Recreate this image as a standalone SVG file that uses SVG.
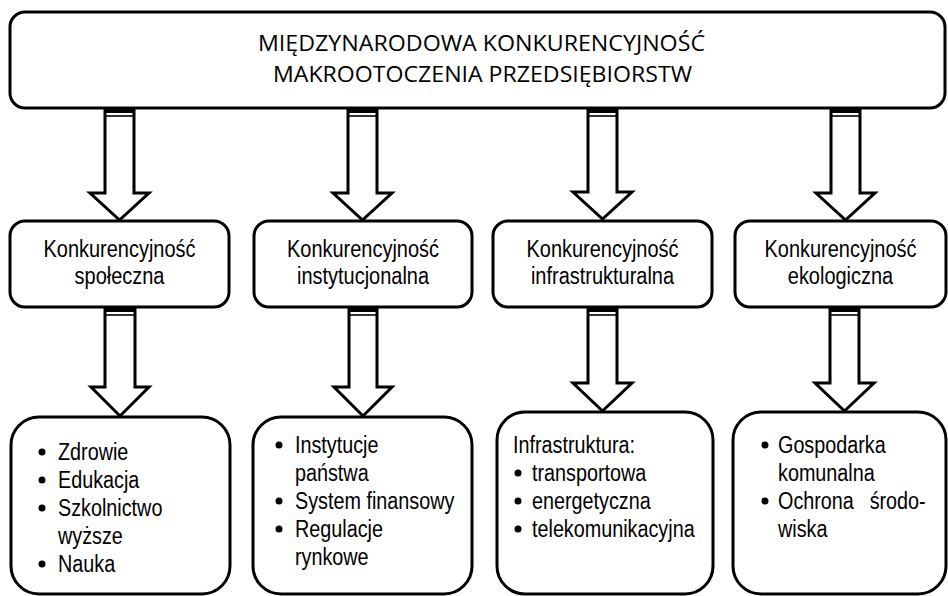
<svg xmlns="http://www.w3.org/2000/svg" width="948" height="596" viewBox="0 0 948 596">
<style>
.box{fill:#fff;stroke:#000;stroke-width:3}
.arr{fill:#fff;stroke:#000;stroke-width:3;stroke-linejoin:miter}
.band{fill:#000}
.bl{stroke:#000;stroke-width:1.6}
.title{font-family:"Open Sans","Liberation Sans",sans-serif;font-size:22.5px;fill:#000;text-anchor:middle}
.mid{font-family:"Liberation Sans",Arial,sans-serif;font-size:23.5px;fill:#000;text-anchor:middle}
.lst{font-family:"Liberation Sans",Arial,sans-serif;font-size:23px;fill:#000}
.dot{fill:#000}
</style>
<rect width="948" height="596" fill="#fff"/>
<g id="connectors">
  <g id="a1"><polygon class="arr" points="105,108 134,108 134,193 149,193 119.5,220 90,193 105,193"/><rect class="band" x="105" y="108" width="29" height="5"/><line class="bl" x1="105" y1="116" x2="134" y2="116"/></g>
  <g id="a2"><polygon class="arr" points="348,108 377,108 377,193 392,193 362.5,220 333,193 348,193"/><rect class="band" x="348" y="108" width="29" height="5"/><line class="bl" x1="348" y1="116" x2="377" y2="116"/></g>
  <g id="a3"><polygon class="arr" points="588,108 617,108 617,192 632,192 602.5,219 573,192 588,192"/><rect class="band" x="588" y="108" width="29" height="5"/><line class="bl" x1="588" y1="116" x2="617" y2="116"/></g>
  <g id="a4"><polygon class="arr" points="831,108 860,108 860,193 875,193 845.5,220 816,193 831,193"/><rect class="band" x="831" y="108" width="29" height="5"/><line class="bl" x1="831" y1="116" x2="860" y2="116"/></g>
  <g id="b1"><polygon class="arr" points="105,307 135,307 135,387 149,387 120,416 91,387 105,387"/><rect class="band" x="105" y="307" width="30" height="5"/><line class="bl" x1="105" y1="315" x2="135" y2="315"/></g>
  <g id="b2"><polygon class="arr" points="349,307 377,307 377,387 392,387 363,416 334,387 349,387"/><rect class="band" x="349" y="307" width="28" height="5"/><line class="bl" x1="349" y1="315" x2="377" y2="315"/></g>
  <g id="b3"><polygon class="arr" points="588,307 617,307 617,383 632,383 602.5,411 573,383 588,383"/><rect class="band" x="588" y="307" width="29" height="5"/><line class="bl" x1="588" y1="315" x2="617" y2="315"/></g>
  <g id="b4"><polygon class="arr" points="830,307 859,307 859,383 874,383 844.5,411 815,383 830,383"/><rect class="band" x="830" y="307" width="29" height="5"/><line class="bl" x1="830" y1="315" x2="859" y2="315"/></g>
</g>
<g id="top">
  <rect class="box" x="10" y="12" width="935" height="96" rx="15"/>
  <text class="title" x="481.5" y="51" textLength="447" lengthAdjust="spacingAndGlyphs">MIĘDZYNARODOWA KONKURENCYJNOŚĆ</text>
  <text class="title" x="482.5" y="82" textLength="419" lengthAdjust="spacingAndGlyphs">MAKROOTOCZENIA PRZEDSIĘBIORSTW</text>
</g>
<g id="m1">
  <rect class="box" x="10" y="221" width="219" height="86" rx="15"/>
  <text class="mid" transform="translate(119.5 257) scale(0.85 1)">Konkurencyjność</text>
  <text class="mid" transform="translate(119.5 284) scale(0.85 1)">społeczna</text>
</g>
<g id="m2">
  <rect class="box" x="254" y="221" width="218" height="86" rx="15"/>
  <text class="mid" transform="translate(363 257) scale(0.85 1)">Konkurencyjność</text>
  <text class="mid" transform="translate(363 284) scale(0.85 1)">instytucjonalna</text>
</g>
<g id="m3">
  <rect class="box" x="493" y="221" width="219" height="86" rx="15"/>
  <text class="mid" transform="translate(602.5 257) scale(0.85 1)">Konkurencyjność</text>
  <text class="mid" transform="translate(602.5 284) scale(0.85 1)">infrastrukturalna</text>
</g>
<g id="m4">
  <rect class="box" x="735" y="221" width="211" height="86" rx="15"/>
  <text class="mid" transform="translate(840.5 257) scale(0.85 1)">Konkurencyjność</text>
  <text class="mid" transform="translate(840.5 284) scale(0.85 1)">ekologiczna</text>
</g>
<g id="l1">
  <rect class="box" x="11" y="417" width="219" height="177" rx="28"/>
  <circle class="dot" cx="42" cy="452" r="3.5"/>
  <circle class="dot" cx="42" cy="480" r="3.5"/>
  <circle class="dot" cx="42" cy="508" r="3.5"/>
  <circle class="dot" cx="42" cy="564" r="3.5"/>
  <text class="lst" transform="translate(58 460) scale(0.86 1)">Zdrowie</text>
  <text class="lst" transform="translate(58 488) scale(0.86 1)">Edukacja</text>
  <text class="lst" transform="translate(58 516) scale(0.86 1)">Szkolnictwo</text>
  <text class="lst" transform="translate(58 544) scale(0.86 1)">wyższe</text>
  <text class="lst" transform="translate(58 572) scale(0.86 1)">Nauka</text>
</g>
<g id="l2">
  <rect class="box" x="253" y="417" width="219" height="177" rx="28"/>
  <circle class="dot" cx="279" cy="445" r="3.5"/>
  <circle class="dot" cx="279" cy="501" r="3.5"/>
  <circle class="dot" cx="279" cy="529" r="3.5"/>
  <text class="lst" transform="translate(295 453) scale(0.86 1)">Instytucje</text>
  <text class="lst" transform="translate(295 481) scale(0.86 1)">państwa</text>
  <text class="lst" transform="translate(295 509) scale(0.86 1)">System finansowy</text>
  <text class="lst" transform="translate(295 537) scale(0.86 1)">Regulacje</text>
  <text class="lst" transform="translate(295 565) scale(0.86 1)">rynkowe</text>
</g>
<g id="l3">
  <rect class="box" x="497" y="412" width="216" height="182" rx="28"/>
  <circle class="dot" cx="518" cy="473" r="3.5"/>
  <circle class="dot" cx="518" cy="501" r="3.5"/>
  <circle class="dot" cx="518" cy="529" r="3.5"/>
  <text class="lst" transform="translate(513 453) scale(0.86 1)">Infrastruktura:</text>
  <text class="lst" transform="translate(532 481) scale(0.86 1)">transportowa</text>
  <text class="lst" transform="translate(532 509) scale(0.86 1)">energetyczna</text>
  <text class="lst" transform="translate(532 537) scale(0.86 1)">telekomunikacyjna</text>
</g>
<g id="l4">
  <rect class="box" x="733" y="412" width="213" height="182" rx="28"/>
  <circle class="dot" cx="765" cy="445" r="3.5"/>
  <circle class="dot" cx="765" cy="501" r="3.5"/>
  <text class="lst" transform="translate(778 453) scale(0.86 1)">Gospodarka</text>
  <text class="lst" transform="translate(778 481) scale(0.86 1)">komunalna</text>
  <text class="lst" transform="translate(778 509) scale(0.86 1)" word-spacing="12">Ochrona środo-</text>
  <text class="lst" transform="translate(778 537) scale(0.86 1)">wiska</text>
</g>
</svg>
